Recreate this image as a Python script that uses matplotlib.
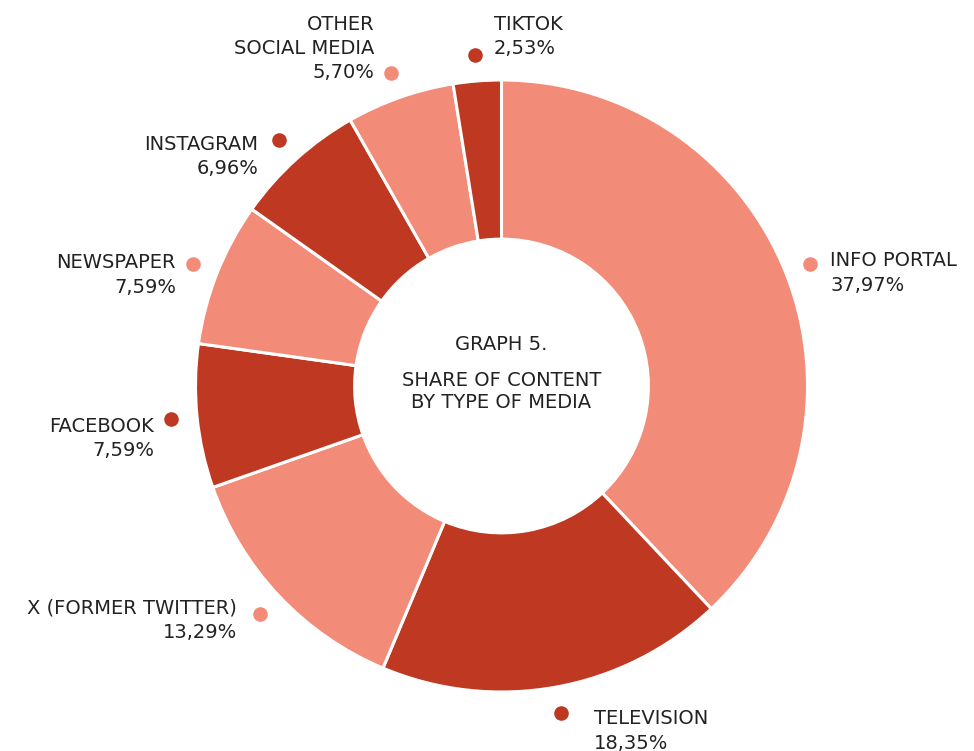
import numpy as np
import matplotlib
matplotlib.use("Agg")
import matplotlib.pyplot as plt

# share of content by type of media (clockwise from top)
media = ["INFO PORTAL", "TELEVISION", "X (FORMER TWITTER)", "FACEBOOK",
         "NEWSPAPER", "INSTAGRAM", "OTHER\nSOCIAL MEDIA", "TIKTOK"]
shares = [37.97, 18.35, 13.29, 7.59, 7.59, 6.96, 5.70, 2.53]
share_labels = ["37,97%", "18,35%", "13,29%", "7,59%", "7,59%", "6,96%", "5,70%", "2,53%"]

LIGHT = "#F28B78"
DARK = "#BF3822"
colors = [LIGHT, DARK] * 4

W, H = 974, 751
CX, CY = 501.5, H - 386
R = 306

# label layout in image pixels: (x, first line y, alignment)
label_pos = [
    (830, 261, "left"),
    (594, 719, "left"),
    (237, 608, "right"),
    (154, 426, "right"),
    (176, 263, "right"),
    (258, 144, "right"),
    (374, 24, "right"),
    (494, 24, "left"),
]
LINE_STEP = 24.5

plt.rcParams["font.family"] = ["DejaVu Sans"]
fig = plt.figure(figsize=(W / 100, H / 100), dpi=100)
ax = fig.add_axes([0, 0, 1, 1])

wedges, _ = ax.pie(shares, colors=colors, startangle=90, counterclock=False,
                   radius=R, center=(CX, CY), frame=True,
                   wedgeprops=dict(width=R * 0.52, edgecolor="white", linewidth=2.2))

for w, col in zip(wedges, colors):
    mid = np.deg2rad((w.theta1 + w.theta2) / 2)
    ax.plot(CX + 1.085 * R * np.cos(mid), CY + 1.085 * R * np.sin(mid), "o",
            ms=10.5, color=col, mec="none")

txt = dict(fontsize=14, color="#222222", va="center")
for name, pct, (x, y, ha) in zip(media, share_labels, label_pos):
    lines = name.split("\n") + [pct]
    for i, line in enumerate(lines):
        ax.text(x, H - (y + i * LINE_STEP), line, ha=ha, **txt)

ax.text(CX, H - 345, "GRAPH 5.", ha="center", **txt)
ax.text(CX, H - 380, "SHARE OF CONTENT", ha="center", **txt)
ax.text(CX, H - 403, "BY TYPE OF MEDIA", ha="center", **txt)

ax.set_xlim(0, W)
ax.set_ylim(0, H)
ax.set_aspect("equal")
ax.axis("off")

fig.savefig("out.png", dpi=100)
